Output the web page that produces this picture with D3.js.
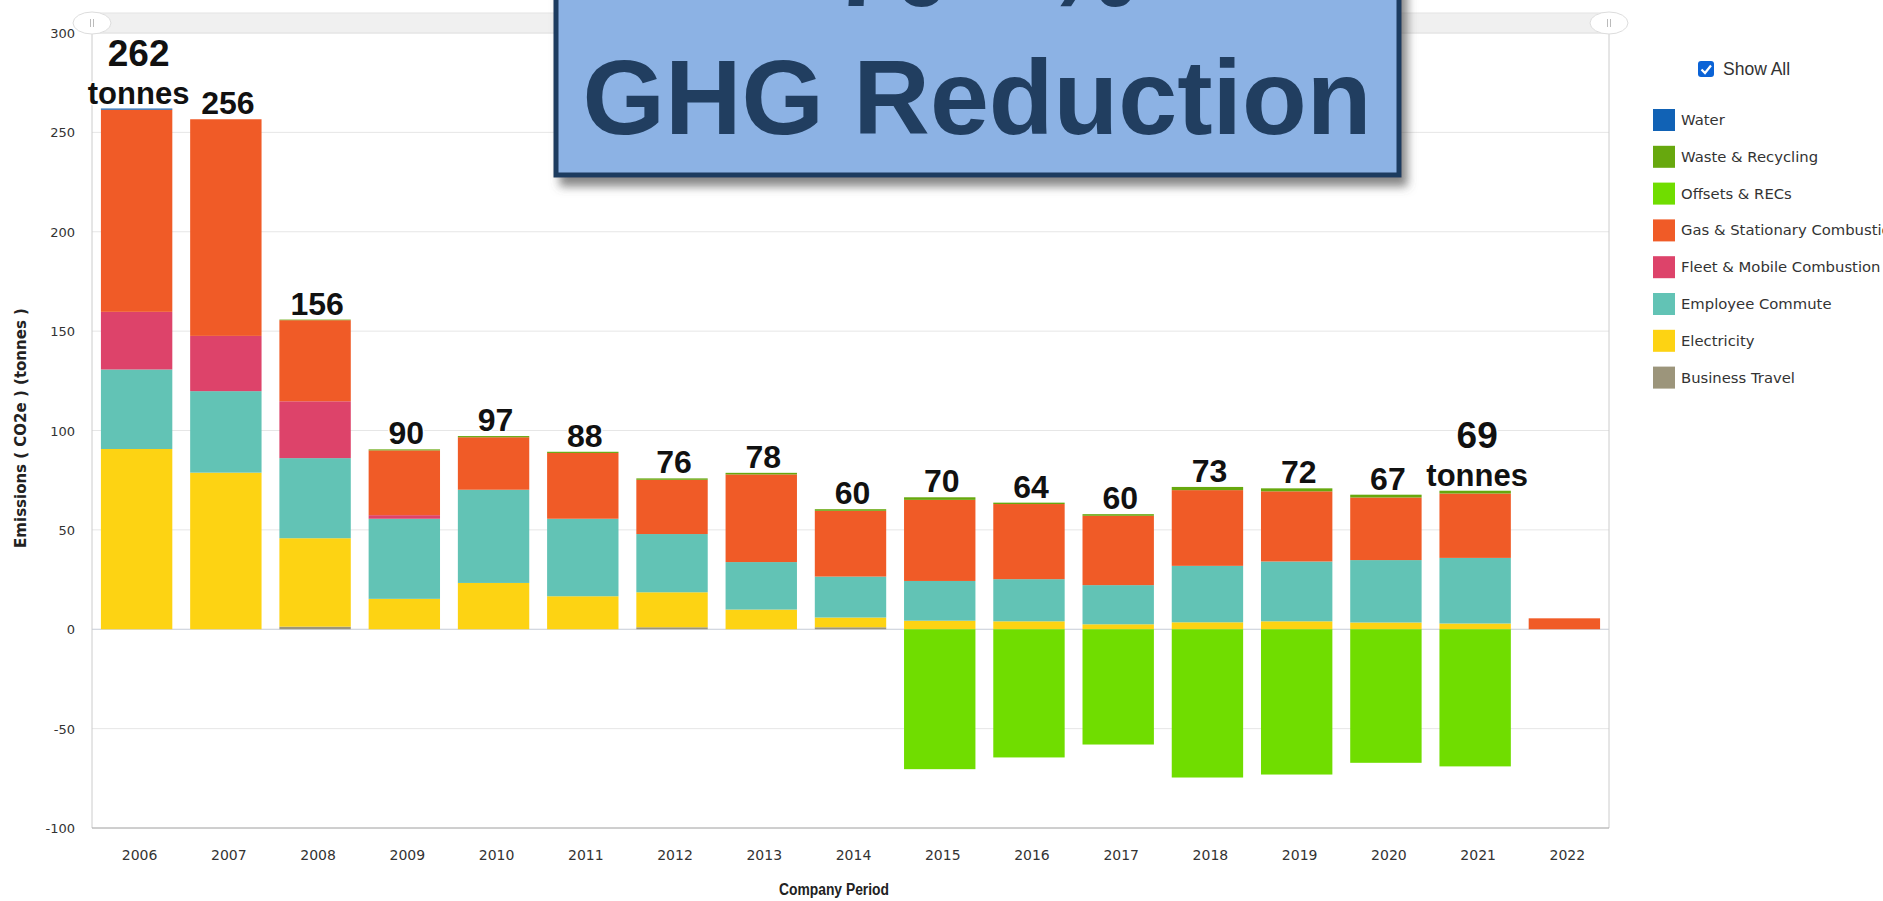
<!DOCTYPE html>
<meta charset="utf-8">
<style>
body { margin: 0; background: #fff; overflow: hidden; }
text { font-family: "DejaVu Sans", Verdana, sans-serif; }
</style>
<body>
<svg id="chart" width="1883" height="901"></svg>
<script src="https://cdn.jsdelivr.net/npm/d3@7/dist/d3.min.js"></script>
<script>
// values (tonnes CO2e)
var years = ["2006","2007","2008","2009","2010","2011","2012","2013","2014","2015","2016","2017","2018","2019","2020","2021","2022"];
var businessTravel  = [0, 0, 1.3, 0, 0, 0, 1, 0, 1, 0, 0, 0, 0, 0, 0, 0, 0];
var electricity     = [90.7, 78.8, 44.5, 15.3, 23.3, 16.6, 17.6, 9.9, 4.9, 4.3, 4.0, 2.5, 3.5, 4.0, 3.4, 2.9, 0];
var employeeCommute = [40, 41, 40.3, 40.3, 46.9, 39, 29.3, 23.9, 20.6, 20, 21.2, 19.7, 28.4, 30.1, 31.4, 33, 0];
var fleetMobile     = [29, 27.8, 28.6, 1.8, 0, 0, 0, 0, 0, 0, 0, 0, 0, 0, 0, 0, 0];
var gasStationary   = [101.7, 109, 40.8, 32.6, 26.4, 33.1, 27.3, 44.1, 33.1, 40.8, 37.8, 34.9, 38.1, 35.3, 31.5, 32.4, 5.5];
var offsetsRecs     = [0, 0, 0, 0, 0, 0, 0, 0, 0, -70.4, -64.5, -58, -74.6, -73.1, -67.2, -69, 0];
var wasteRecycling  = [0, 0, 0.3, 0.5, 0.6, 0.6, 0.7, 0.8, 0.8, 1.3, 0.7, 0.8, 1.6, 1.5, 1.4, 1.4, 0];
var water           = [0.6, 0, 0, 0, 0, 0, 0, 0, 0, 0, 0, 0, 0, 0, 0, 0, 0];

var totalLabels = ["262","256","156","90","97","88","76","78","60","70","64","60","73","72","67","69",""];
var unitLabels  = ["tonnes","","","","","","","","","","","","","","","tonnes",""];

var yTicks = [-100, -50, 0, 50, 100, 150, 200, 250, 300];

var seriesNames  = ["Business Travel","Electricity","Employee Commute","Fleet & Mobile Combustion","Gas & Stationary Combustion","Offsets & RECs","Waste & Recycling","Water"];
var seriesValues = [businessTravel, electricity, employeeCommute, fleetMobile, gasStationary, offsetsRecs, wasteRecycling, water];
var seriesColors = ["#9c957b","#fdd313","#62c3b5","#dd436a","#f05b27","#70dd00","#67a80e","#1162b5"];
var legendOrder  = ["Water","Waste & Recycling","Offsets & RECs","Gas & Stationary Combustion","Fleet & Mobile Combustion","Employee Commute","Electricity","Business Travel"];

var svg = d3.select("#chart");
var plotLeft = 92, plotRight = 1609, plotTop = 33, plotBottom = 828;

var rows = years.map(function(yr, i) {
  var r = {year: yr};
  seriesNames.forEach(function(n, k) { r[n] = seriesValues[k][i]; });
  return r;
});

var x = d3.scaleBand().domain(years).range([plotLeft, plotRight]).paddingInner(0.2).paddingOuter(0.1);
var y = d3.scaleLinear().domain([-100, 300]).range([plotBottom, plotTop]);
var color = d3.scaleOrdinal().domain(seriesNames).range(seriesColors);

// slider bar on top
svg.append("rect").attr("x", plotLeft).attr("y", 13).attr("width", plotRight - plotLeft).attr("height", 20)
  .attr("fill", "#f0f0f0").attr("stroke", "#e4e4e4");

// gridlines
svg.append("g").selectAll("line").data(yTicks).enter().append("line")
  .attr("x1", plotLeft).attr("x2", plotRight)
  .attr("y1", function(d) { return y(d); }).attr("y2", function(d) { return y(d); })
  .attr("stroke", function(d) { return d === 0 ? "#c5cbd6" : "#e6e6e6"; })
  .attr("stroke-width", 1);

// axis lines
svg.append("line").attr("x1", plotLeft).attr("x2", plotLeft).attr("y1", plotTop).attr("y2", plotBottom).attr("stroke", "#ccc");
svg.append("line").attr("x1", plotRight).attr("x2", plotRight).attr("y1", plotTop).attr("y2", plotBottom).attr("stroke", "#ccc");
svg.append("line").attr("x1", plotLeft).attr("x2", plotRight).attr("y1", plotBottom).attr("y2", plotBottom).attr("stroke", "#aaa");

// stacked bars
var stack = d3.stack().keys(seriesNames).offset(d3.stackOffsetDiverging);
var layers = stack(rows);

svg.append("g").selectAll("g").data(layers).enter().append("g")
  .attr("fill", function(d) { return color(d.key); })
  .selectAll("rect").data(function(d) { return d; }).enter().append("rect")
  .attr("x", function(d) { return x(d.data.year); })
  .attr("width", x.bandwidth())
  .attr("y", function(d) { return y(Math.max(d[0], d[1])); })
  .attr("height", function(d) { return Math.abs(y(d[0]) - y(d[1])); });

// y tick labels
svg.append("g").selectAll("text").data(yTicks).enter().append("text")
  .attr("x", 75).attr("y", function(d) { return y(d) + 5; })
  .attr("text-anchor", "end").attr("font-size", "13px").attr("fill", "#333")
  .text(function(d) { return d; });

// x tick labels
svg.append("g").selectAll("text").data(years).enter().append("text")
  .attr("x", function(d) { return x(d) + x.bandwidth() / 2 + 3; }).attr("y", 860)
  .attr("text-anchor", "middle").attr("font-size", "14px").attr("fill", "#333")
  .text(function(d) { return d; });

var labelFont = '"Liberation Sans", Arial, sans-serif';

// axis titles
svg.append("text").attr("x", 834).attr("y", 895).attr("text-anchor", "middle")
  .style("font-family", labelFont)
  .attr("font-size", "16px").attr("font-weight", "bold").attr("fill", "#222")
  .attr("textLength", 110).attr("lengthAdjust", "spacingAndGlyphs")
  .text("Company Period");
svg.append("text").attr("transform", "translate(26,428) rotate(-90)").attr("text-anchor", "middle")
  .attr("font-size", "15px").attr("font-weight", "bold").attr("fill", "#222")
  .text("Emissions ( CO2e ) (tonnes )");

// slider handles
[plotLeft, plotRight].forEach(function(hx) {
  svg.append("ellipse").attr("cx", hx).attr("cy", 23).attr("rx", 19).attr("ry", 11)
    .attr("fill", "#fff").attr("stroke", "#ddd");
  svg.append("path").attr("d", "M" + (hx - 1.5) + ",19V27M" + (hx + 1.5) + ",19V27")
    .attr("stroke", "#bbb").attr("stroke-width", 1);
});

// total labels over the bars
var labels = svg.append("g");
rows.forEach(function(r, i) {
  if (!totalLabels[i]) return;
  var posTop = d3.sum(seriesNames, function(n) { return Math.max(0, r[n]); });
  var cx = x(r.year) + x.bandwidth() / 2 + 2;
  var base = y(posTop) - 5;
  var big = unitLabels[i] !== "";
  var t = labels.append("text").attr("x", cx).attr("text-anchor", "middle")
    .style("font-family", labelFont).attr("font-weight", "bold")
    .attr("fill", "#111").attr("stroke", "#fff").attr("stroke-width", 3)
    .attr("paint-order", "stroke");
  if (big) {
    t.attr("y", base - 38).attr("font-size", "37px").text(totalLabels[i]);
    labels.append("text").attr("x", cx).attr("y", base).attr("text-anchor", "middle")
      .style("font-family", labelFont).attr("font-weight", "bold").attr("font-size", "31px")
      .attr("fill", "#111").attr("stroke", "#fff").attr("stroke-width", 3).attr("paint-order", "stroke")
      .text(unitLabels[i]);
  } else {
    t.attr("y", base).attr("font-size", "32px").text(totalLabels[i]);
  }
});

// title box overlay
var defs = svg.append("defs");
var f = defs.append("filter").attr("id", "shadow").attr("x", "-10%").attr("y", "-10%").attr("width", "120%").attr("height", "140%");
f.append("feDropShadow").attr("dx", 6).attr("dy", 9).attr("stdDeviation", 5)
  .attr("flood-color", "#555").attr("flood-opacity", 0.7);

svg.append("rect").attr("x", 556).attr("y", -20).attr("width", 843).attr("height", 195)
  .attr("fill", "#8cb2e4").attr("stroke", "#1d3a5e").attr("stroke-width", 5)
  .attr("filter", "url(#shadow)");
svg.append("text").attr("x", 985).attr("y", 6).attr("text-anchor", "middle")
  .style("font-family", labelFont).attr("font-weight", "bold").attr("font-size", "106px")
  .attr("fill", "#213e60").text("70+ %");
svg.append("text").attr("x", 977).attr("y", 134).attr("text-anchor", "middle")
  .style("font-family", labelFont).attr("font-weight", "bold").attr("font-size", "106px")
  .attr("fill", "#213e60").text("GHG Reduction");

// legend
var lg = svg.append("g");
lg.append("rect").attr("x", 1698).attr("y", 61).attr("width", 16).attr("height", 16).attr("rx", 3)
  .attr("fill", "#0b63d6");
lg.append("path").attr("d", "M1701.5,69.5 L1705,73 L1711,65.5").attr("fill", "none")
  .attr("stroke", "#fff").attr("stroke-width", 2.2);
lg.append("text").attr("x", 1723).attr("y", 75).style("font-family", labelFont)
  .attr("font-size", "17.5px").attr("fill", "#333").text("Show All");

var items = lg.selectAll("g.item").data(legendOrder).enter().append("g").attr("class", "item")
  .attr("transform", function(d, i) { return "translate(1653," + (109 + i * 36.8) + ")"; });
items.append("rect").attr("width", 22).attr("height", 22).attr("fill", function(d) { return color(d); });
items.append("text").attr("x", 28).attr("y", 16).attr("font-size", "14.8px").attr("fill", "#333")
  .text(function(d) { return d; });
</script>
</body>
